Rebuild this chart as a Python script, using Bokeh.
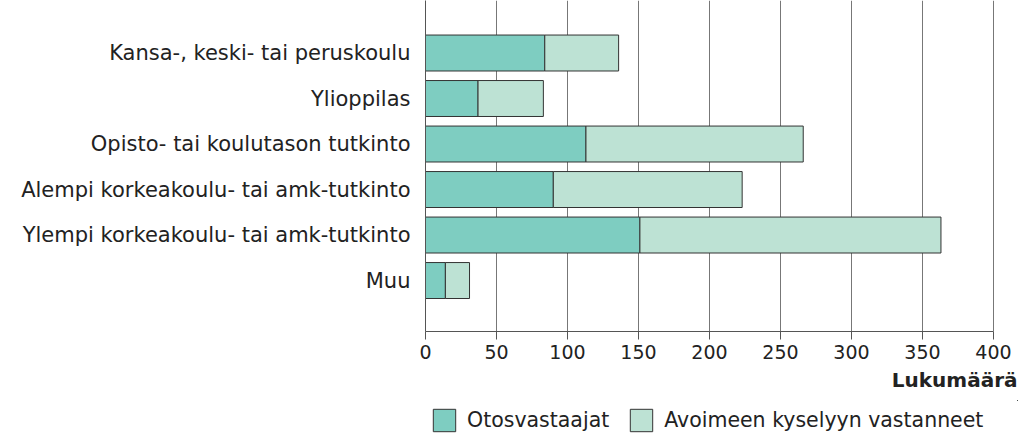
from bokeh.plotting import figure
from bokeh.layouts import column
from bokeh.models import Range1d, Legend, LegendItem, FixedTicker, Title
from bokeh.embed import file_html
from bokeh.resources import INLINE

categories = [
    "Kansa-, keski- tai peruskoulu",
    "Ylioppilas",
    "Opisto- tai koulutason tutkinto",
    "Alempi korkeakoulu- tai amk-tutkinto",
    "Ylempi korkeakoulu- tai amk-tutkinto",
    "Muu",
]
otosvastaajat = [84, 37, 113, 90, 151, 14]
avoimeen = [52, 46, 153, 133, 212, 17]
series_names = ["Otosvastaajat", "Avoimeen kyselyyn vastanneet"]
x_ticks = [0, 50, 100, 150, 200, 250, 300, 350, 400]
axis_title = "Lukumäärä"

FONT = "DejaVu Sans"
FS = "19px"
C1, C2, EDGE = "#7ECDC1", "#BDE2D4", "#333333"
n = len(categories)
ypos = [n - i for i in range(n)]
totals = [a + b for a, b in zip(otosvastaajat, avoimeen)]

W = 1021
H1, H2 = 400, 34
FL, FR = 425, 1017          # frame edges (px); 400 sits at 993
xmax = 400 * (FR - FL) / (993 - FL)
p = figure(width=W, height=H1, output_backend="svg", toolbar_location=None,
           x_range=Range1d(0, xmax), y_range=Range1d(-0.12, 7.154),
           min_border_left=FL, min_border_right=W - FR,
           min_border_top=0, min_border_bottom=H1 - 331)
p.outline_line_color = None
p.background_fill_color = "white"
p.border_fill_color = "white"

p.hbar(y=ypos, left=0, right=otosvastaajat, height=0.79,
       fill_color=C1, line_color=EDGE, line_width=1)
p.hbar(y=ypos, left=otosvastaajat, right=totals, height=0.79,
       fill_color=C2, line_color=EDGE, line_width=1)

p.xaxis.ticker = FixedTicker(ticks=x_ticks)
p.xaxis.bounds = (0, 400)
p.xaxis.axis_line_color = "#555555"
p.xaxis.major_tick_line_color = "#555555"
p.xaxis.major_tick_out = 8
p.xaxis.major_tick_in = 0
p.xaxis.minor_tick_line_color = None
p.xaxis.major_label_text_font = FONT
p.xaxis.major_label_text_font_size = FS
p.xaxis.major_label_text_color = "#222222"
p.xaxis.major_label_standoff = 5

p.add_layout(Title(text=axis_title, align="right", standoff=8, offset=0,
                   text_font=FONT, text_font_size="20px", text_font_style="bold",
                   text_color="#222222"), "below")

p.yaxis.ticker = FixedTicker(ticks=ypos)
p.yaxis.major_label_overrides = {y: c for y, c in zip(ypos, categories)}
p.yaxis.axis_line_color = "#555555"
p.yaxis.major_tick_line_color = None
p.yaxis.minor_tick_line_color = None
p.yaxis.major_tick_out = 0
p.yaxis.major_tick_in = 0
p.yaxis.major_label_standoff = 15
p.yaxis.major_label_text_font = FONT
p.yaxis.major_label_text_font_size = "21px"
p.yaxis.major_label_text_color = "#222222"

p.ygrid.grid_line_color = None
p.xgrid.ticker = FixedTicker(ticks=x_ticks)
p.xgrid.grid_line_color = "#777777"
p.xgrid.grid_line_width = 1

# legend strip (its frame is aligned with the chart frame by the column layout);
# the series are drawn far outside its visible ranges, only the swatches show
q = figure(width=W, height=H2, output_backend="svg", toolbar_location=None,
           x_range=Range1d(-1000, -999), y_range=Range1d(-10, -9),
           x_axis_type=None, y_axis_type=None, min_border=0)
q.outline_line_color = None
q.xgrid.visible = False
q.ygrid.visible = False
s1 = q.hbar(y=ypos, left=0, right=otosvastaajat, height=0.79,
            fill_color=C1, line_color=EDGE)
s2 = q.hbar(y=ypos, left=otosvastaajat, right=totals, height=0.79,
            fill_color=C2, line_color=EDGE)
legend = Legend(items=[LegendItem(label=series_names[0], renderers=[s1]),
                       LegendItem(label=series_names[1], renderers=[s2])],
                orientation="horizontal", location=(5, 0),
                glyph_width=28, glyph_height=28, label_standoff=9, spacing=18,
                padding=0, margin=0, border_line_color=None, background_fill_alpha=0,
                label_text_font=FONT, label_text_font_size="20.5px",
                label_text_color="#222222")
q.add_layout(legend, "center")

layout = column(p, q, spacing=0)
open("out.html", "w").write(file_html(layout, INLINE))
